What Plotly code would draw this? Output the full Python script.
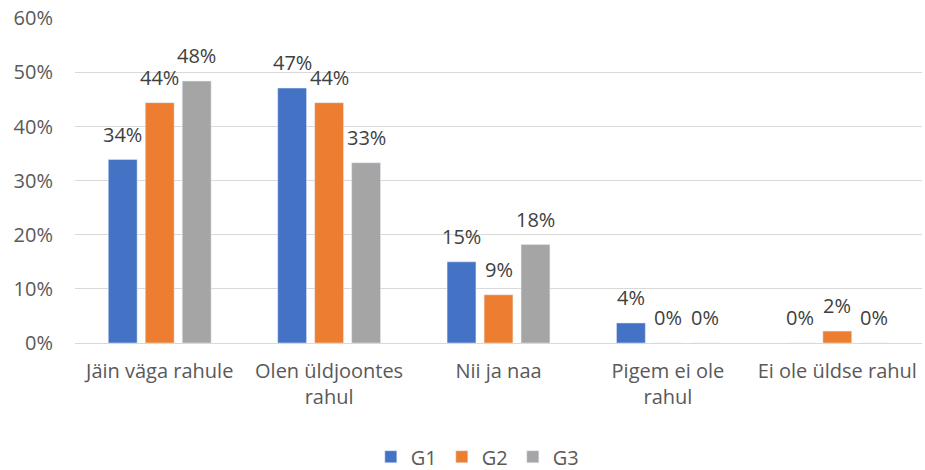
import plotly.graph_objects as go

categories = ["Jäin väga rahule", "Olen üldjoontes<br>rahul", "Nii ja naa", "Pigem ei ole<br>rahul", "Ei ole üldse rahul"]
series_names = ["G1", "G2", "G3"]
g1 = [0.339, 0.471, 0.150, 0.037, 0.0]
g2 = [0.444, 0.444, 0.089, 0.0, 0.022]
g3 = [0.484, 0.333, 0.182, 0.0, 0.0]
colors = ["#4472C4", "#ED7D31", "#A5A5A5"]
tick_vals = [0, 0.1, 0.2, 0.3, 0.4, 0.5, 0.6]

FONT = "Open Sans"
FS = 20
W, H = 925, 470
ML, MR, MT, MB = 75, 3, 18, 127
BARGAP = 0.345

fig = go.Figure()
for name, vals, col in zip(series_names, [g1, g2, g3], colors):
    fig.add_trace(go.Bar(
        x=categories, y=vals, name=name, marker_color=col,
        cliponaxis=False,
    ))

# data labels placed above each bar
cat_px = (W - ML - MR) / len(categories)
slot_px = cat_px * (1 - BARGAP) / 3
for i, vals in enumerate([g1, g2, g3]):
    for c, v in zip(categories, vals):
        fig.add_annotation(
            x=c, y=v, text=f"{v:.0%}", showarrow=False,
            xshift=(i - 1) * slot_px, yshift=10, yanchor="bottom",
            font=dict(family=FONT, size=FS, color="#404040"),
        )

fig.update_layout(
    width=W, height=H,
    margin=dict(l=ML, r=MR, t=MT, b=MB, autoexpand=False),
    plot_bgcolor="white", paper_bgcolor="white",
    barmode="group", bargap=BARGAP, bargroupgap=0.22,
    font=dict(family=FONT, size=FS, color="#595959"),
    showlegend=True,
    legend=dict(orientation="h", x=0.475, xanchor="center", y=-0.35, yanchor="middle",
                font=dict(family=FONT, size=FS, color="#595959"),
                traceorder="normal", itemwidth=30),
)
fig.update_yaxes(range=[0, 0.6005], tickvals=tick_vals, tickformat=".0%",
                 showgrid=True, gridcolor="#d9d9d9", gridwidth=1,
                 zeroline=True, zerolinecolor="#d9d9d9", zerolinewidth=1,
                 showline=False, ticks="", ticklabelstandoff=21, automargin=False)
fig.update_xaxes(showline=False, ticks="", tickangle=0, ticklabelstandoff=14, automargin=False)

fig.write_html("out.html", config={"displayModeBar": False},
               post_script="document.body.style.margin='0';")
